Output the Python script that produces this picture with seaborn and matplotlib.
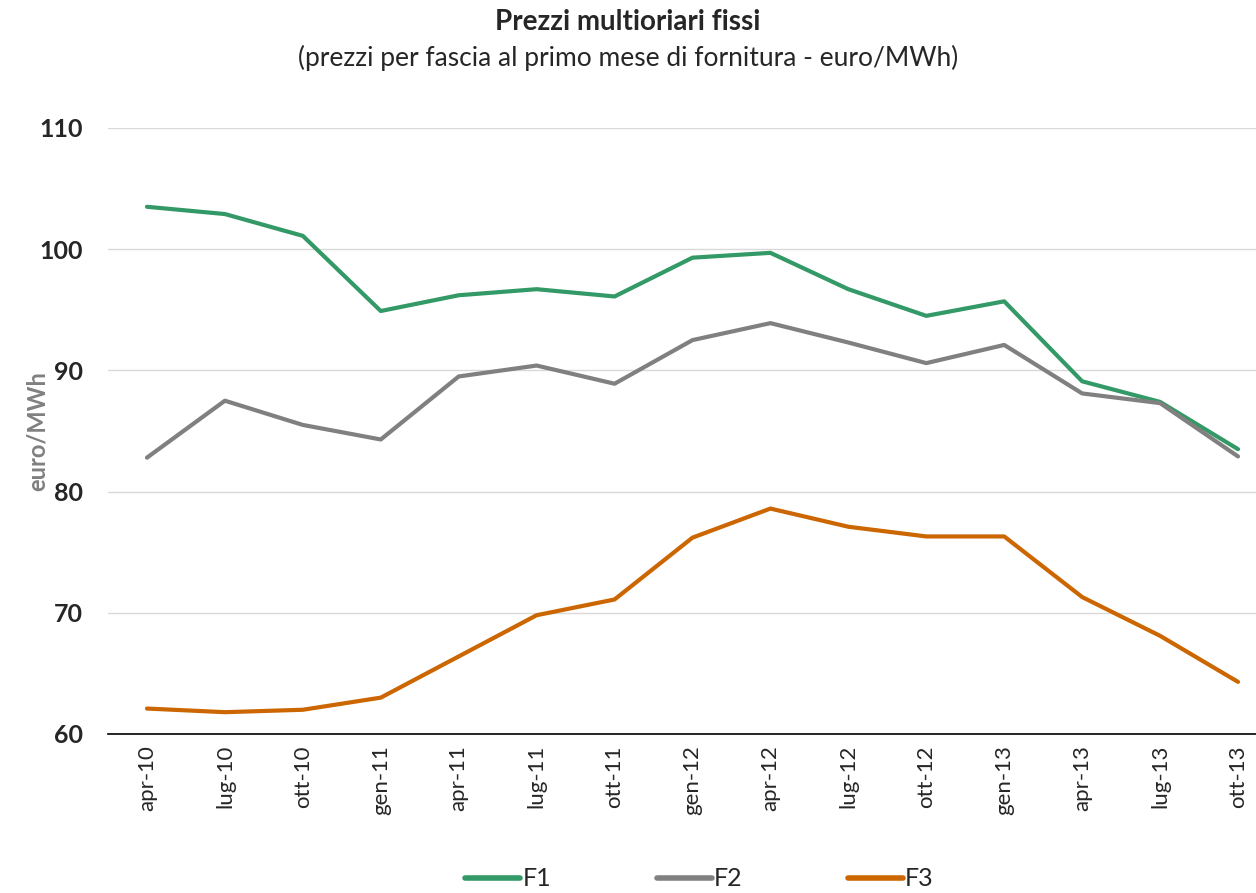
import pandas as pd
import numpy as np
import matplotlib.pyplot as plt
import seaborn as sns

mesi = ["apr-10", "lug-10", "ott-10", "gen-11", "apr-11", "lug-11", "ott-11", "gen-12",
        "apr-12", "lug-12", "ott-12", "gen-13", "apr-13", "lug-13", "ott-13"]
f1 = [103.5, 102.9, 101.1, 94.9, 96.2, 96.7, 96.1, 99.3, 99.7, 96.7, 94.5, 95.7, 89.1, 87.4, 83.5]
f2 = [82.8, 87.5, 85.5, 84.3, 89.5, 90.4, 88.9, 92.5, 93.9, 92.3, 90.6, 92.1, 88.1, 87.3, 82.9]
f3 = [62.1, 61.8, 62.0, 63.0, 66.4, 69.8, 71.1, 76.2, 78.6, 77.1, 76.3, 76.3, 71.3, 68.1, 64.3]

df = pd.DataFrame({"mese": mesi, "F1": f1, "F2": f2, "F3": f3})
df["pos"] = range(len(df))
long = df.melt(id_vars=["mese", "pos"], var_name="fascia", value_name="prezzo")

sns.set_style("white")
plt.rcParams['font.family'] = ['Lato', 'DejaVu Sans']

colori = {"F1": "#339966", "F2": "#808080", "F3": "#CC6600"}

fig = plt.figure(figsize=(12.56, 8.93), dpi=100)
ax = fig.add_axes([108 / 1256, 1 - 734 / 893, 1 - 108 / 1256, (734 - 128) / 893])

sns.lineplot(data=long, x="pos", y="prezzo", hue="fascia", palette=colori,
             linewidth=3, ax=ax, legend=False)

ax.set_ylim(60, 110)
ax.set_yticks([60, 70, 80, 90, 100, 110])
ax.set_xlim(-0.5, 14 + 18 / 78)
ax.set_xticks(range(len(mesi)))
ax.set_xticklabels(mesi, rotation=90, fontsize=16)
ax.tick_params(axis="y", labelsize=18, length=0, pad=18)
ax.tick_params(axis="x", length=0, pad=8)
for lab in ax.get_yticklabels():
    lab.set_fontweight("bold")
ax.grid(axis="y", color="#d9d9d9", linewidth=1)
ax.set_axisbelow(True)
for s in ["top", "right", "left"]:
    ax.spines[s].set_visible(False)
ax.spines["bottom"].set_color("black")
ax.spines["bottom"].set_linewidth(1.2)
ax.set_xlabel("")
ax.set_ylabel("euro/MWh", fontsize=17, fontweight="bold", color="#808080")
ax.yaxis.set_label_coords(-0.052, 0.5)

fig.text(0.5, 1 - 22 / 893, "Prezzi multioriari fissi", ha="center", va="center",
         fontsize=20, fontweight="bold")
fig.text(0.5, 1 - 58 / 893, "(prezzi per fascia al primo mese di fornitura - euro/MWh)",
         ha="center", va="center", fontsize=19)

handles = [plt.Line2D([], [], color=colori[k], linewidth=4) for k in ["F1", "F2", "F3"]]
fig.legend(handles, ["F1", "F2", "F3"], loc="center", bbox_to_anchor=(0.557, 1 - 879 / 893),
           ncol=3, frameon=False, fontsize=18, handlelength=2.2, handletextpad=0.1,
           columnspacing=4.2)

fig.savefig("out.png", dpi=100)
